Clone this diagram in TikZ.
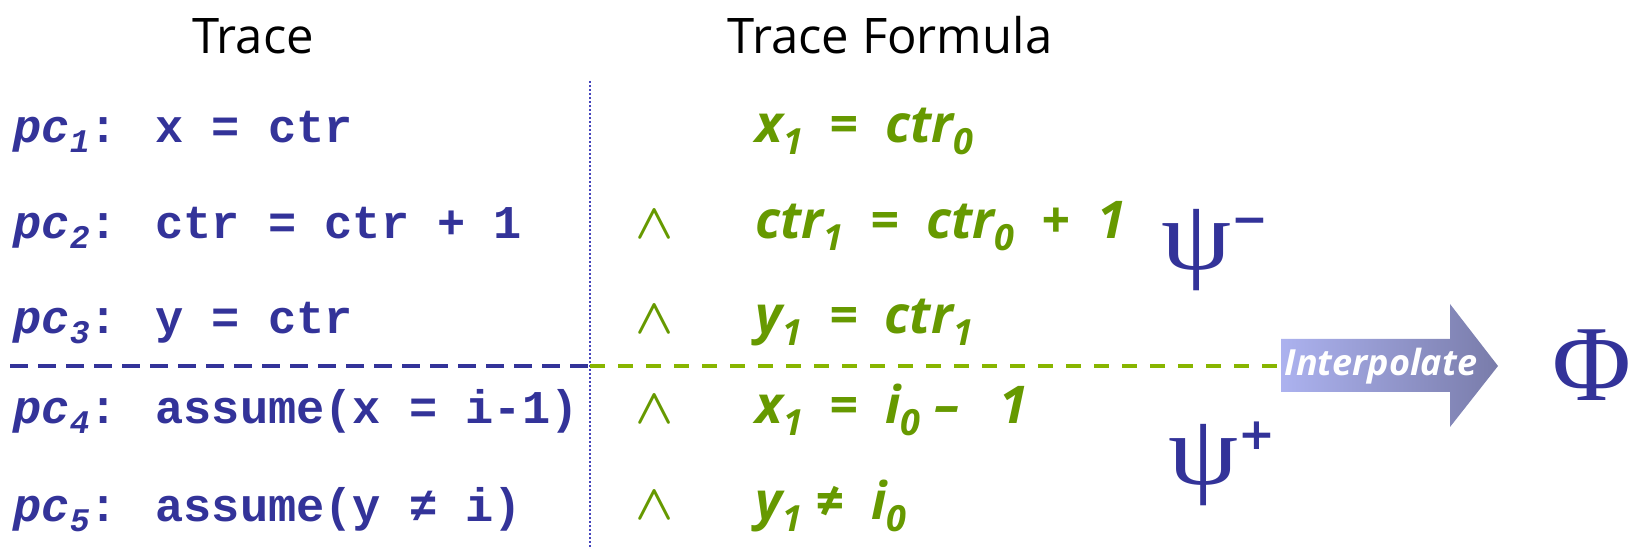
\documentclass[tikz,border=0pt]{standalone}
\usepackage{fontspec}
\usepackage{graphicx}
\setmainfont{Open Sans}
\newfontfamily\codefont{Liberation Mono}
\newfontfamily\greekfont{Liberation Serif}
\newfontfamily\symfont{DejaVu Sans}
\usetikzlibrary{positioning}
\definecolor{Navy}{HTML}{333399}
\definecolor{Olive}{HTML}{669900}
\definecolor{Lime}{HTML}{88B500}
\definecolor{Dots}{HTML}{4444BB}
\definecolor{ArrowL}{HTML}{ACB2EF}
\definecolor{ArrowR}{HTML}{797CAA}
\newcommand\csub[1]{\raisebox{-5pt}{\fontsize{16.5}{16.5}\selectfont\itshape #1}}
\newcommand\gsub[1]{\raisebox{-6pt}{\fontsize{18}{18}\selectfont #1}}
\newcommand\gsup[2]{\raisebox{#1}{\symfont\bfseries\fontsize{22}{22}\selectfont #2}}
\newcommand\conjsym{$\boldsymbol{\wedge}$}
\newcommand\wide[1]{\scalebox{1.12}[1]{#1}}
\usepackage{amsmath}
\tikzset{
  header/.style={font=\fontsize{24.5}{28}\selectfont,text=black,inner sep=0pt,anchor=base},
  code/.style={font=\codefont\bfseries\fontsize{23.5}{28}\selectfont,text=Navy,inner sep=0pt,anchor=base west},
  formula/.style={font=\bfseries\itshape\fontsize{26}{30}\selectfont,text=Olive,inner sep=0pt,anchor=base west},
  conj/.style={font=\fontsize{26}{30}\selectfont,text=Olive,inner sep=0pt,anchor=base west},
  greek/.style={font=\greekfont\fontsize{50}{56}\selectfont,text=Navy,inner sep=0pt,anchor=base west},
  interp/.style={font=\bfseries\itshape\fontsize{18}{20}\selectfont,text=white,inner sep=0pt,anchor=base west},
  divider/.style={draw=Dots,line width=1pt,dash pattern=on 1.2pt off 0.8pt},
  cutblue/.style={draw=Navy,line width=2.2pt,dash pattern=on 9pt off 5pt},
  cutgreen/.style={draw=Lime,line width=2pt,dash pattern=on 7.5pt off 6.5pt},
  bigarrow/.style={left color=ArrowL,right color=ArrowR}
}

\begin{document}
\begin{tikzpicture}[x=0.5pt,y=-0.5pt]
  \useasboundingbox (0,0) rectangle (1633,549);
  % column headers
  \node[header] (htrace) at (253,54) {Trace};
  \node[header] (hformula) at (890,54) {Trace Formula};
  % trace
  \node[code] (pc1) at (13,143) {\textit{pc}\csub{1}: x = ctr};
  \node[code] (pc2) at (13,239) {\textit{pc}\csub{2}: ctr = ctr + 1};
  \node[code] (pc3) at (13,334) {\textit{pc}\csub{3}: y = ctr};
  \node[code] (pc4) at (13,424) {\textit{pc}\csub{4}: assume(x = i-1)};
  \node[code] (pc5) at (13,522) {\textit{pc}\csub{5}: assume(y ≠ i)};
  % trace formula
  \node[formula] (f1) at (755,143) {x\gsub{1}~~=~~ctr\gsub{0}};
  \node[formula] (f2) at (755,239) {ctr\gsub{1}~~=~~ctr\gsub{0}~~+~~1};
  \node[formula] (f3) at (755,334) {y\gsub{1}~~=~~ctr\gsub{1}};
  \node[formula] (f4) at (755,424) {x\gsub{1}~~=~~i\gsub{0}~–~~~1};
  \node[formula] (f5) at (755,520) {y\gsub{1}~≠~~i\gsub{0}};
  \node[conj] (c2) at (635,239) {\conjsym};
  \node[conj] (c3) at (635,334) {\conjsym};
  \node[conj] (c4) at (635,424) {\conjsym};
  \node[conj] (c5) at (635,520) {\conjsym};
  % cut between the two halves
  \coordinate (divtop) at (590,81);
  \coordinate (divbot) at (590,549);
  \coordinate (cutL) at (10,366);
  \coordinate (cutM) at (590,366);
  \coordinate (cutR) at (1277,366);
  \draw[divider] (divtop) -- (divbot);
  \draw[cutblue] (cutL) -- (cutM);
  \draw[cutgreen] (cutM) -- (cutR);
  % interpolation
  \node[greek] (psiminus) at (1161,270) {\wide{ψ}\gsup{17.5pt}{−}};
  \node[greek] (psiplus) at (1168,485) {\wide{ψ}\gsup{17.5pt}{+}};
  \shade[bigarrow] (1281,339) -- (1450,339) -- (1450,304) -- (1498,366)
    -- (1450,427) -- (1450,392) -- (1281,392) -- cycle;
  \node[interp] (interp) at (1284,376) {Interpolate};
  \node[greek,anchor=base east,font=\greekfont\fontsize{54}{58}\selectfont] (phi) at (1632,401) {Φ};
\end{tikzpicture}
\end{document}
